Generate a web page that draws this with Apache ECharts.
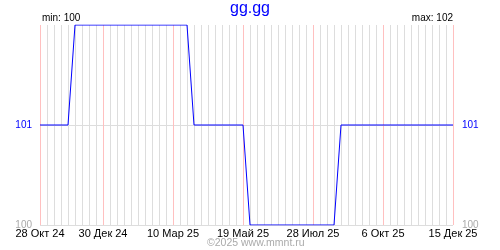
<!DOCTYPE html>
<html>
<head>
<meta charset="utf-8">
<script src="https://cdn.jsdelivr.net/npm/echarts@6/dist/echarts.min.js"></script>
<style>html,body{margin:0;padding:0;background:#fff}#c{width:500px;height:250px}</style>
</head>
<body>
<div id="c"></div>
<script>
// Weekly dates starting 28 Oct 2024 (60 weeks)
const monthsRu = ['Янв','Фев','Мар','Апр','Май','Июн','Июл','Авг','Сен','Окт','Ноя','Дек'];
const startDate = [2024, 9, 28];
const weekCount = 60;
const categories = [];
for (let i = 0; i < weekCount; i++) {
  const d = new Date(Date.UTC(startDate[0], startDate[1], startDate[2] + 7 * i));
  categories.push(d.getUTCDate() + ' ' + monthsRu[d.getUTCMonth()] + ' ' + String(d.getUTCFullYear()).slice(2));
}
// Tick label positions (category indices)
const tickIndices = [0, 9, 19, 29, 39, 49, 59];
const values = [
  101,101,101,101,101,
  102,102,102,102,102,102,102,102,102,102,102,102,102,102,102,102,102,
  101,101,101,101,101,101,101,101,
  100,100,100,100,100,100,100,100,100,100,100,100,100,
  101,101,101,101,101,101,101,101,101,101,101,101,101,101,101,101,101
];
const yMin = 100, yMax = 102;
const titleText = 'gg.gg';
const minText = 'min: 100';
const maxText = 'max: 102';
const copyright = '©2025 www.mmnt.ru';

const FONT = '"Liberation Sans", Arial, sans-serif';
const chart = echarts.init(document.getElementById('c'), null, {renderer: 'canvas'});
const yLabelColor = v => (Number(v) === 101 ? '#0000ff' : '#aaaaaa');
const yLabelFmt = v => (Number(v) === 102 ? '' : String(v));

// one vertical grid line per week; pink on labelled weeks
const gridLineData = categories.map((c, i) => [i, tickIndices.includes(i) ? 1 : 0]);

chart.setOption({
  animation: false,
  backgroundColor: '#ffffff',
  title: {
    text: titleText, left: 'center', top: 1, padding: 0,
    textStyle: {color: '#0000ff', fontSize: 16, fontWeight: 'normal', fontFamily: FONT}
  },
  grid: {left: 40, right: 47, top: 25, bottom: 25, containLabel: false},
  xAxis: {
    type: 'category', data: categories, boundaryGap: false,
    axisLine: {show: false}, axisTick: {show: false},
    axisLabel: {
      interval: (idx) => tickIndices.includes(idx),
      color: '#000', fontSize: 11, fontFamily: FONT, margin: 3,
      showMinLabel: true, showMaxLabel: true, hideOverlap: false
    },
    splitLine: {show: false}
  },
  yAxis: [{
    type: 'value', min: yMin, max: yMax, interval: 1, position: 'left',
    axisLine: {show: false}, axisTick: {show: false},
    axisLabel: {formatter: yLabelFmt, color: yLabelColor, fontSize: 10, fontFamily: FONT, margin: 8},
    splitLine: {show: true, lineStyle: {color: ['#dddddd', '#dddddd', 'rgba(0,0,0,0)'], width: 1}}
  }, {
    type: 'value', min: yMin, max: yMax, interval: 1, position: 'right',
    axisLine: {show: false}, axisTick: {show: false},
    axisLabel: {formatter: yLabelFmt, color: yLabelColor, fontSize: 10, fontFamily: FONT, margin: 9},
    splitLine: {show: false}
  }],
  graphic: [
    {type: 'text', left: 42, top: 13, style: {text: minText, fill: '#000', font: '10px ' + FONT}},
    {type: 'text', right: 47, top: 13, style: {text: maxText, fill: '#000', font: '10px ' + FONT}},
    {type: 'text', left: 207, top: 238, style: {text: copyright, fill: '#aaaaaa', font: '10.5px ' + FONT}}
  ],
  series: [{
    type: 'custom', z: 1,
    data: gridLineData,
    encode: {x: 0},
    renderItem: (params, api) => {
      const top = api.coord([api.value(0), yMax]);
      const bot = api.coord([api.value(0), yMin]);
      const x = Math.round(top[0]) + 0.5;
      return {
        type: 'line',
        shape: {x1: x, y1: Math.round(top[1]), x2: x, y2: Math.round(bot[1])},
        style: {stroke: api.value(1) ? '#ffc0c0' : '#dddddd', lineWidth: 1}
      };
    }
  }, {
    type: 'line', z: 6, data: values,
    showSymbol: false, symbol: 'none',
    lineStyle: {color: '#0000ff', width: 1}
  }]
});
</script>
</body>
</html>
